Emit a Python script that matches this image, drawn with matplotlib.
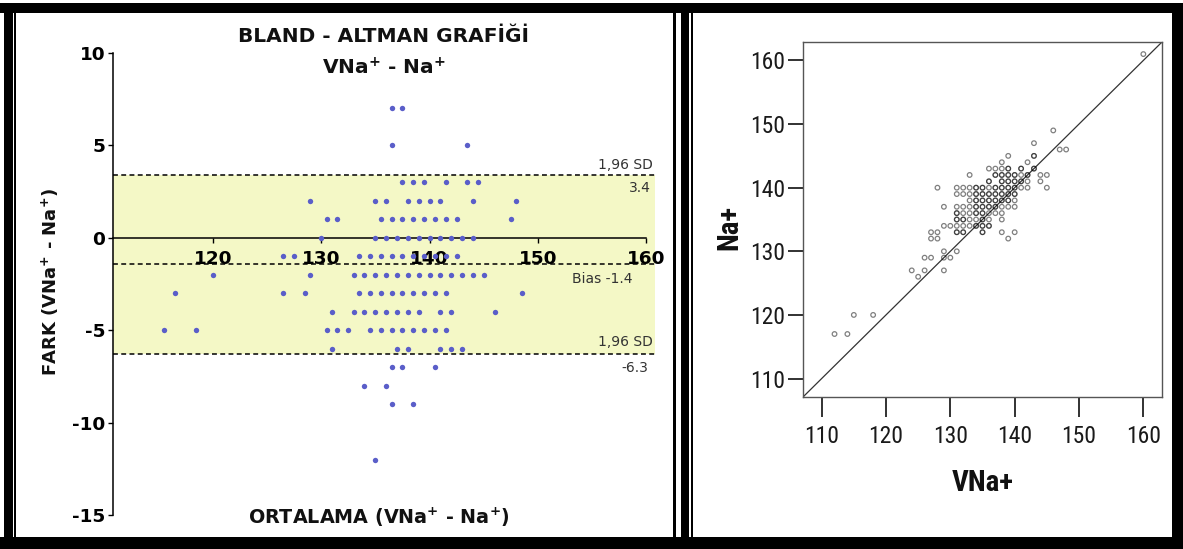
import matplotlib
matplotlib.use("Agg")
import matplotlib.pyplot as plt
from matplotlib import font_manager as fm
from matplotlib.font_manager import FontProperties
from matplotlib.patches import Rectangle

plt.rcParams["axes.unicode_minus"] = False

W, H = 1183, 549

# ---------------- Bland-Altman data: mean values grouped by difference ----------------
ba_rows = {
    7:   [136.5, 137.5],
    5:   [136.5, 143.5],
    3:   [137.5, 138.5, 139.5, 141.5, 143.5, 144.5],
    2:   [129, 135, 136, 138, 139, 140, 141, 144, 148],
    1:   [130.5, 131.5, 135.5, 136.5, 137.5, 138.5, 139.5, 140.5, 141.5, 142.5, 147.5],
    0:   [130, 135, 136, 137, 138, 139, 140, 141, 142, 143, 144],
    -1:  [126.5, 127.5, 133.5, 134.5, 135.5, 136.5, 137.5, 138.5, 139.5, 140.5, 141.5, 142.5],
    -2:  [120, 129, 133, 134, 135, 136, 137, 138, 139, 140, 141, 142, 143, 144, 145],
    -3:  [116.5, 126.5, 128.5, 133.5, 134.5, 135.5, 136.5, 137.5, 138.5, 139.5, 140.5, 141.5, 148.5],
    -4:  [131, 133, 134, 135, 136, 137, 138, 139, 141, 142, 146],
    -5:  [115.5, 118.5, 130.5, 131.5, 132.5, 134.5, 135.5, 136.5, 137.5, 138.5, 139.5, 140.5, 141.5],
    -6:  [131, 137, 138, 141, 142, 143],
    -7:  [136.5, 137.5, 140.5],
    -8:  [134, 136],
    -9:  [136.5, 138.5],
    -12: [135],
}
bias = -1.4
upper_loa = 3.4
lower_loa = -6.3

# ---------------- Scatter data: VNa+ values grouped by Na+ ----------------
sc_rows = {
    161: [160],
    149: [146],
    147: [143],
    146: [147, 148],
    145: [139, 143, 143],
    144: [138, 142],
    143: [136, 137, 138, 139, 139, 141, 141, 143, 143],
    142: [133, 137, 137, 138, 138, 139, 139, 140, 140, 141, 142, 142, 144, 145],
    141: [136, 136, 138, 138, 139, 139, 140, 140, 141, 141, 142, 144],
    140: [128, 131, 132, 133, 134, 134, 135, 135, 136, 137, 137, 138, 138, 139, 139,
          140, 140, 141, 142, 145],
    139: [131, 132, 133, 134, 134, 135, 135, 136, 136, 137, 137, 138, 138, 139, 139, 140, 140],
    138: [133, 134, 134, 135, 135, 136, 136, 137, 137, 138, 138, 139, 139, 140],
    137: [129, 131, 132, 133, 134, 134, 135, 135, 136, 136, 137, 137, 138, 139, 140],
    136: [131, 131, 132, 133, 134, 134, 135, 135, 136, 137, 138],
    135: [131, 131, 132, 132, 133, 134, 135, 135, 136, 138],
    134: [129, 130, 131, 132, 133, 134, 134, 135, 135, 136, 136],
    133: [127, 128, 131, 131, 132, 132, 135, 135, 138, 140],
    132: [127, 128, 139],
    130: [129, 131],
    129: [126, 127, 129, 130],
    127: [124, 126, 129],
    126: [125],
    120: [115, 118],
    117: [112, 114],
}

ba_x = [m for d, ms in ba_rows.items() for m in ms]
ba_y = [d for d, ms in ba_rows.items() for m in ms]
sc_x = [v for n, vs in sc_rows.items() for v in vs]
sc_y = [n for n, vs in sc_rows.items() for v in vs]

# ---------------- pick a condensed face for the scatter panel ----------------
installed = {f.name for f in fm.fontManager.ttflist}
narrow_family, narrow_stretch = None, "normal"
for cand in ("Liberation Sans Narrow", "Arial Narrow", "Roboto Condensed",
             "Open Sans Condensed", "Noto Sans Condensed", "DejaVu Sans Condensed"):
    if cand in installed:
        narrow_family = cand
        break
if narrow_family is None:
    cond = [f for f in fm.fontManager.ttflist
            if str(f.stretch) in ("condensed", "semi-condensed", "extra-condensed")]
    if cond:
        narrow_family, narrow_stretch = cond[0].name, "condensed"
is_narrow = narrow_family is not None
if narrow_family is None:
    narrow_family = "Liberation Sans"


def nprop(size, weight="normal"):
    return FontProperties(family=[narrow_family, "DejaVu Sans"], stretch=narrow_stretch,
                          size=size, weight=weight)


tick_size_r = 17 if is_narrow else 15
label_size_r = 21 if is_narrow else 19

fig = plt.figure(figsize=(W / 100, H / 100), dpi=100)
fig.patch.set_facecolor("white")


def fx(px):
    return px / W


def fy(py):
    return 1 - py / H


# ======================= Bland-Altman panel =======================
axL = fig.add_axes([fx(113), fy(515), (655 - 113) / W, (515 - 53) / H])
axL.set_xlim(110.8, 160.8)
axL.set_ylim(-15, 10)
axL.set_facecolor("none")
axL.axhspan(lower_loa, upper_loa, color="#f4f8c6", zorder=0, lw=0)
for v in (upper_loa, bias, lower_loa):
    axL.axhline(v, color="black", lw=1.1, ls=(0, (3.2, 2.2)), zorder=2)
axL.scatter(ba_x, ba_y, s=15, color="#5a5ec9", linewidths=0, zorder=3)

for s in ("top", "right"):
    axL.spines[s].set_visible(False)
axL.spines["bottom"].set_position(("data", 0))
axL.spines["bottom"].set_bounds(110.8, 160)
axL.spines["left"].set_bounds(-15, 10)
for s in ("bottom", "left"):
    axL.spines[s].set_linewidth(1.1)
axL.set_xticks([120, 130, 140, 150, 160])
axL.set_yticks([-15, -10, -5, 0, 5, 10])
axL.tick_params(axis="both", direction="out", length=3.5, width=1, labelsize=13.3)
axL.tick_params(axis="x", pad=5)
axL.tick_params(axis="y", pad=2)
for lab in axL.get_xticklabels() + axL.get_yticklabels():
    lab.set_fontweight("bold")

ann = dict(fontsize=10, color="#333333", ha="right", va="center", zorder=4)
axL.text(160.65, upper_loa + 0.55, "1,96 SD", **ann)
axL.text(160.4, upper_loa - 0.7, f"{upper_loa:.1f}", **ann)
axL.text(158.7, bias - 0.82, f"Bias {bias:.1f}", **ann)
axL.text(160.65, lower_loa + 0.67, "1,96 SD", **ann)
axL.text(160.2, lower_loa - 0.73, f"{lower_loa:.1f}", **ann)

fig.text(fx(384), fy(37), "BLAND - ALTMAN GRAFİĞİ", fontsize=14.5, fontweight="bold",
         ha="center", va="center", color="#111111")
fig.text(fx(384), fy(68), r"VNa$^{\mathbf{+}}$ - Na$^{\mathbf{+}}$", fontsize=14.5,
         fontweight="bold", ha="center", va="center", color="#111111")
fig.text(fx(50), fy(282), r"FARK (VNa$^{\mathbf{+}}$ - Na$^{\mathbf{+}}$)", fontsize=13,
         fontweight="bold", rotation=90, ha="center", va="center", color="#111111")
fig.text(fx(379), fy(517), r"ORTALAMA (VNa$^{\mathbf{+}}$ - Na$^{\mathbf{+}}$)", fontsize=13.8,
         fontweight="bold", ha="center", va="center", color="#111111")

# ======================= Scatter panel =======================
axR = fig.add_axes([fx(803), fy(397), (1162 - 803) / W, (397 - 42) / H])
axR.set_xlim(107.1, 162.9)
axR.set_ylim(107.1, 162.9)
axR.axline((110, 110), (160, 160), color="#333333", lw=0.9, zorder=1)
axR.scatter(sc_x, sc_y, s=11, facecolors="none", edgecolors=(0, 0, 0, 0.5),
            linewidths=0.9, zorder=2)
for s in axR.spines.values():
    s.set_color("#555555")
    s.set_linewidth(1)
axR.set_xticks([110, 120, 130, 140, 150, 160])
axR.set_yticks([110, 120, 130, 140, 150, 160])
axR.tick_params(axis="x", direction="out", length=14.4, width=1.3, color="#222222", pad=6)
axR.tick_params(axis="y", direction="out", length=10.8, width=1.3, color="#222222", pad=2)
for lab in axR.get_xticklabels() + axR.get_yticklabels():
    lab.set_fontproperties(nprop(tick_size_r))
    lab.set_color("#1a1a1a")
fig.text(fx(983), fy(483), "VNa+", fontproperties=nprop(label_size_r, "bold"),
         ha="center", va="center", color="#111111")
fig.text(fx(729), fy(227), "Na+", fontproperties=nprop(label_size_r, "bold"),
         rotation=90, ha="center", va="center", color="#111111")

# ======================= Panel frames =======================
def block(x0, y0, x1, y1, color="black"):
    fig.add_artist(Rectangle((fx(x0), fy(y1)), (x1 - x0) / W, (y1 - y0) / H,
                             transform=fig.transFigure, color=color, lw=0, zorder=20))


block(0, 3, W, 13)          # top band
block(0, 537, W, H)         # bottom band
block(4, 3, 13, H)          # left band
block(1172, 3, W, H)        # right band
block(14, 13, 16, 537)      # inner left rule
block(673, 13, 676, 537)    # left panel right rule
block(681, 13, 689, 537)    # divider
block(691, 13, 693, 537)    # right panel left rule

fig.savefig("out.png", dpi=100, facecolor="white")
